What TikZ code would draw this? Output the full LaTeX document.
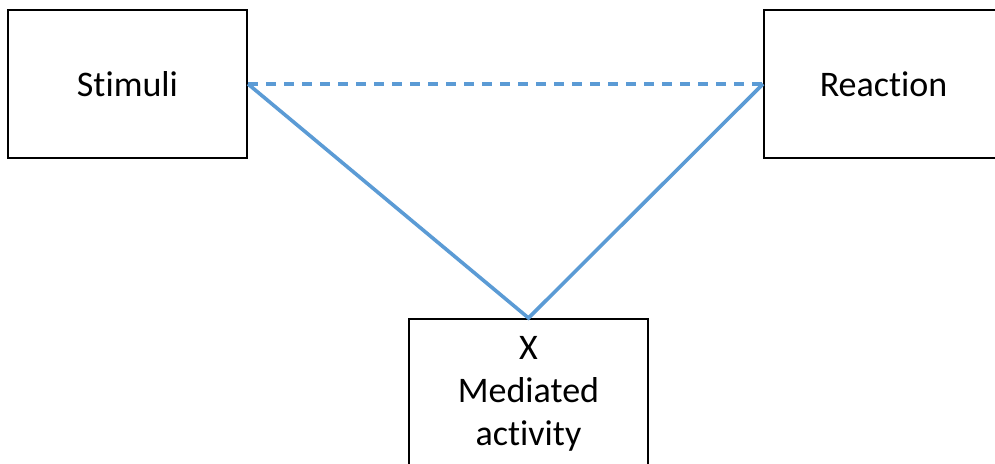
\documentclass[tikz,border=0pt]{standalone}
\usepackage{fontspec}
\setmainfont{Carlito}[Ligatures={NoCommon}]
\definecolor{linkblue}{HTML}{5B9BD5}
\begin{document}
\begin{tikzpicture}[x=1pt,y=1pt,
  box/.style={draw=black, line width=2pt, minimum width=239pt, minimum height=148pt, inner sep=0pt},
  label/.style={font=\fontsize{36}{43}\selectfont, align=center},
  link/.style={draw=linkblue, line width=3.6pt},
  dashlink/.style={link, dash pattern=on 10pt off 8pt}]
  \useasboundingbox (0,0) rectangle (995,463);
  \begin{scope}
    \clip (0,0) rectangle (995,463);
    \node[box] (stim) at (127.5,379) {};
    \node[label] at (stim.center) {Stimuli};
    \node[box] (react) at (883.5,379) {};
    \node[label] at (react.center) {Reaction};
    \node[box] (med) at (528.5,70) {};
    \node[label, anchor=north] (medtxt) at ([yshift=-15pt]med.north) {X\\Mediated\\activity};
    \draw[dashlink] (stim.east) -- (react.west);
    \draw[link, line join=miter] (stim.east) -- (med.north) -- (react.west);
  \end{scope}
\end{tikzpicture}
\end{document}
